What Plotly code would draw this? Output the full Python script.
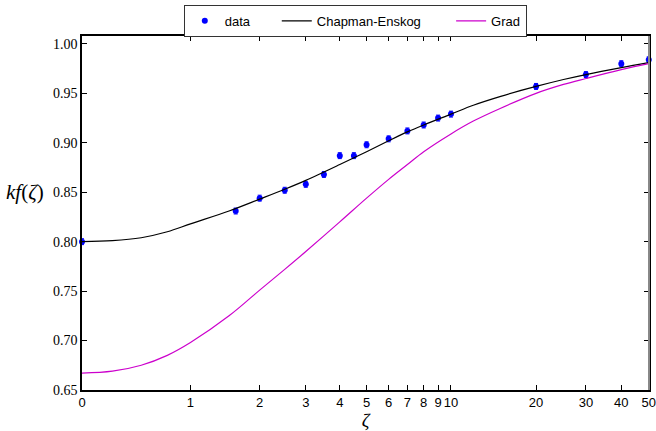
import numpy as np
import plotly.graph_objects as go

# ---- data ----
zeta_data = [0, 1.6, 2, 2.5, 3, 3.5, 4, 4.5, 5, 6, 7, 8, 9, 10, 20, 30, 40, 50]
kf_data = [0.800, 0.831, 0.844, 0.852, 0.858, 0.868, 0.887, 0.887, 0.898, 0.904,
           0.912, 0.918, 0.925, 0.929, 0.957, 0.969, 0.980, 0.984]
kf_err = [0.003] * len(zeta_data)

zeta_curve = [0, 0.25, 0.5, 0.75, 1, 1.5, 2, 2.5, 3, 4, 5, 6, 7, 8, 10, 12, 15, 20, 25, 30, 40, 50]
chapman_enskog = [0.800, 0.801, 0.804, 0.810, 0.818, 0.831, 0.843, 0.853, 0.862, 0.878,
                  0.891, 0.902, 0.911, 0.918, 0.929, 0.938, 0.947, 0.957, 0.964, 0.969,
                  0.976, 0.981]
grad = [0.667, 0.669, 0.675, 0.685, 0.698, 0.725, 0.751, 0.772, 0.790, 0.820,
        0.844, 0.863, 0.878, 0.891, 0.909, 0.922, 0.935, 0.950, 0.959, 0.965,
        0.974, 0.980]

x_ticks = [0, 1, 2, 3, 4, 5, 6, 7, 8, 9, 10, 20, 30, 40, 50]
y_ticks = [0.65, 0.70, 0.75, 0.80, 0.85, 0.90, 0.95, 1.00]


def tr(v):
    # arcsinh axis scale
    return np.arcsinh(np.asarray(v, dtype=float))


NB = "\u00a0"

fig = go.Figure()
fig.add_trace(go.Scatter(
    x=tr(zeta_data), y=kf_data, mode="markers", name="data" + NB * 6,
    marker=dict(color="#0000ff", size=6, symbol="circle"),
    error_y=dict(type="data", array=kf_err, color="#0000ff", thickness=1, width=2),
    cliponaxis=False,
))
fig.add_trace(go.Scatter(
    x=tr(zeta_curve), y=chapman_enskog, mode="lines", name="Chapman-Enskog" + NB * 7,
    line=dict(color="black", width=1.2, shape="spline"),
))
fig.add_trace(go.Scatter(
    x=tr(zeta_curve), y=grad, mode="lines", name="Grad",
    line=dict(color="#cc00cc", width=1.2, shape="spline"),
))

fig.update_layout(
    width=656, height=431,
    margin=dict(l=82, r=7, t=36, b=41, autoexpand=False),
    plot_bgcolor="white", paper_bgcolor="white",
    font=dict(family="Liberation Sans, Arial, sans-serif", size=13, color="black"),
    showlegend=True,
    legend=dict(
        orientation="h", x=0.482, xanchor="center", y=1.088, yanchor="top",
        bordercolor="#333333", borderwidth=1, bgcolor="white",
        font=dict(family="Liberation Sans, Arial, sans-serif", size=13),
        itemwidth=30,
    ),
    xaxis=dict(
        range=[0, float(tr(50)) + 0.002], automargin=False,
        tickmode="array", tickvals=tr(x_ticks), ticktext=[str(t) for t in x_ticks],
        ticks="inside", ticklen=5, tickcolor="black", mirror="ticks",
        showline=True, linecolor="black", linewidth=1.5,
        showgrid=False, zeroline=False,
        tickfont=dict(family="Liberation Sans, Arial, sans-serif", size=13),
        title=dict(text="<i>ζ</i>", font=dict(family="Liberation Serif, serif", size=19),
                   standoff=8),
    ),
    yaxis=dict(
        range=[0.65, 1.008], automargin=False,
        tickmode="array", tickvals=y_ticks, ticktext=[f"{t:.2f}" for t in y_ticks],
        ticks="inside", ticklen=5, tickcolor="black", mirror="ticks",
        showline=True, linecolor="black", linewidth=1.5,
        showgrid=False, zeroline=False,
        tickfont=dict(family="Liberation Serif, Times New Roman, serif", size=14),
    ),
)

fig.add_shape(type="line", xref="paper", yref="paper", x0=1, x1=1, y0=0, y1=1,
              line=dict(color="#888888", width=2))
fig.add_annotation(
    text="<i>kf</i>(<i>ζ</i>)", xref="paper", yref="paper",
    x=-0.138, y=0.56, xanchor="left", yanchor="middle", showarrow=False,
    font=dict(family="Liberation Serif, serif", size=21),
)

fig.write_html("out.html", config={"displayModeBar": False},
               post_script="document.body.style.margin='0';document.body.style.overflow='hidden';")
